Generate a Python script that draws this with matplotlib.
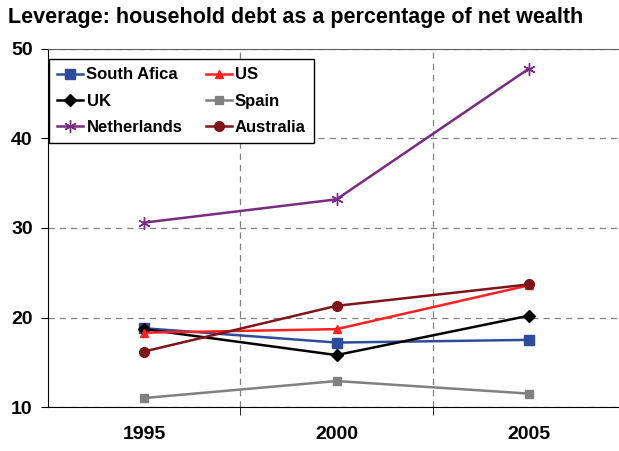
import matplotlib.pyplot as plt

plt.rcParams['font.family'] = ['Liberation Sans', 'DejaVu Sans']

years = ['1995', '2000', '2005']
south_africa = [18.8, 17.2, 17.5]
us = [18.3, 18.7, 23.6]
uk = [18.7, 15.8, 20.2]
spain = [11.0, 12.9, 11.5]
netherlands = [30.6, 33.2, 47.8]
australia = [16.2, 21.3, 23.7]

fig = plt.figure(figsize=(6.19, 4.51), dpi=100)
ax = fig.add_axes([48 / 619, 1 - 407 / 451, 577 / 619, 358 / 451])

x = range(len(years))
ax.plot(x, south_africa, color='#2E4C9E', marker='s', ms=7, lw=1.8, label='South Afica')
ax.plot(x, uk, color='black', marker='D', ms=6, lw=1.8, label='UK')
ax.plot(x, netherlands, color='#7B2A84', marker=(6, 2, 0), ms=9, mew=1.0, lw=1.8, label='Netherlands')
ax.plot(x, us, color='#FF2020', marker='^', ms=6, lw=1.8, label='US')
ax.plot(x, spain, color='#808080', marker='s', ms=6, lw=1.8, label='Spain')
ax.plot(x, australia, color='#7F1518', marker='o', ms=7, lw=1.8, label='Australia')

ax.set_xlim(-0.5, 2.5)
ax.set_ylim(10, 50)
ax.set_yticks([10, 20, 30, 40, 50])
ax.set_xticks(list(x))
ax.set_xticklabels(years, fontsize=14, fontweight='bold')
ax.set_xticks([0.5, 1.5], minor=True)
ax.tick_params(axis='x', which='major', length=0, pad=14)
ax.tick_params(axis='x', which='minor', length=6, direction='out', color='black')
ax.tick_params(axis='y', length=5, direction='out', labelsize=14, pad=6)
for t in ax.get_yticklabels():
    t.set_fontweight('bold')

ax.grid(axis='y', which='major', color='#808080', ls=(0, (5, 4)), lw=0.9)
ax.grid(axis='x', which='minor', color='#808080', ls=(0, (5, 4)), lw=0.9)
ax.spines['top'].set_color('#606060')
ax.spines['right'].set_visible(False)

ax.legend(ncol=2, loc='upper left', bbox_to_anchor=(1 / 577, 0.972), fancybox=False,
          edgecolor='black', framealpha=1, prop={'weight': 'bold', 'size': 12},
          handlelength=1.55, handletextpad=0.2, columnspacing=1.4, labelspacing=0.68,
          borderpad=0.5, borderaxespad=0)

fig.text(8 / 619, 1 - 18 / 451, 'Leverage: household debt as a percentage of net wealth',
         fontsize=15.5, fontweight='bold', va='center', ha='left')

plt.savefig('out.png', dpi=100)
